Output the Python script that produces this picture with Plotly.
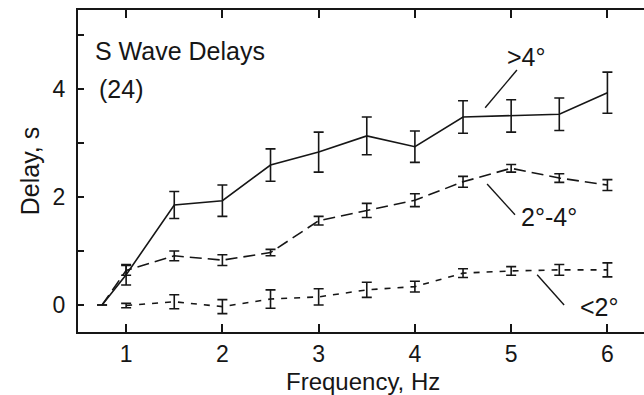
import plotly.graph_objects as go

# ---- data ----
freq_gt4 = [0.75, 1.0, 1.5, 2.0, 2.5, 3.0, 3.5, 4.0, 4.5, 5.0, 5.5, 6.0]
delay_gt4 = [0.0, 0.56, 1.85, 1.93, 2.59, 2.83, 3.13, 2.93, 3.48, 3.50, 3.53, 3.93]
err_gt4 = [0.0, 0.19, 0.25, 0.29, 0.30, 0.37, 0.35, 0.29, 0.30, 0.30, 0.30, 0.38]

freq_2to4 = [0.75, 1.0, 1.5, 2.0, 2.5, 3.0, 3.5, 4.0, 4.5, 5.0, 5.5, 6.0]
delay_2to4 = [0.0, 0.64, 0.91, 0.83, 0.97, 1.56, 1.75, 1.94, 2.28, 2.53, 2.35, 2.22]
err_2to4 = [0.0, 0.09, 0.09, 0.10, 0.06, 0.08, 0.13, 0.12, 0.10, 0.07, 0.08, 0.10]

freq_lt2 = [1.0, 1.5, 2.0, 2.5, 3.0, 3.5, 4.0, 4.5, 5.0, 5.5, 6.0]
delay_lt2 = [-0.01, 0.06, -0.03, 0.11, 0.15, 0.28, 0.34, 0.59, 0.63, 0.65, 0.65]
err_lt2 = [0.04, 0.13, 0.13, 0.17, 0.15, 0.14, 0.10, 0.08, 0.08, 0.10, 0.13]

x_ticks = [1, 2, 3, 4, 5, 6]
y_ticks = [0, 1, 2, 3, 4, 5]
y_ticktext = ["0", "", "2", "", "4", ""]

FONT = "Liberation Sans, Arial, Helvetica, sans-serif"
INK = "#161616"

fig = go.Figure()

def add_series(x, y, e, dash):
    fig.add_trace(go.Scatter(
        x=x, y=y, mode="lines",
        line=dict(color=INK, width=1.6, dash=dash),
        error_y=dict(type="data", array=e, visible=True, color=INK,
                     thickness=1.6, width=5),
        showlegend=False, hoverinfo="skip"))

add_series(freq_gt4, delay_gt4, err_gt4, "solid")
add_series(freq_2to4, delay_2to4, err_2to4, "12px,6px")
add_series(freq_lt2, delay_lt2, err_lt2, "6px,7px")

# leader lines for the series labels
leaders = [
    ((5.06, 4.35), (4.73, 3.65)),
    ((4.75, 2.24), (5.04, 1.67)),
    ((5.27, 0.56), (5.55, 0.00)),
]
for (x0, y0), (x1, y1) in leaders:
    fig.add_shape(type="line", xref="x", yref="y", x0=x0, y0=y0, x1=x1, y1=y1,
                  line=dict(color=INK, width=1.4))

labels = [
    (">4°", 5.16, 4.59),
    ("2°-4°", 5.39, 1.63),
    ("<2°", 5.92, -0.04),
]
for t, x, y in labels:
    fig.add_annotation(x=x, y=y, xref="x", yref="y", text=t, showarrow=False,
                       font=dict(family=FONT, size=25, color=INK))

fig.add_annotation(x=0.66, y=4.70, xref="x", yref="y", text="S Wave Delays",
                   showarrow=False, xanchor="left",
                   font=dict(family=FONT, size=25, color=INK))
fig.add_annotation(x=0.70, y=4.0, xref="x", yref="y", text="(24)",
                   showarrow=False, xanchor="left",
                   font=dict(family=FONT, size=25, color=INK))

# x-axis title placed just below the tick labels (as in the reference)
fig.add_annotation(x=3.46, y=-0.155, xref="x", yref="paper",
                   text="Frequency, Hz", showarrow=False,
                   xanchor="center", yanchor="middle",
                   font=dict(family=FONT, size=24, color=INK))

fig.update_layout(
    width=644, height=395,
    margin=dict(l=78, r=0, t=10, b=63),
    paper_bgcolor="white", plot_bgcolor="white",
    font=dict(family=FONT, size=23, color=INK),
    xaxis=dict(
        range=[0.5, 6.38], tickvals=x_ticks, ticks="inside", ticklen=8,
        tickwidth=1.6, tickcolor=INK, showline=True, linecolor=INK,
        linewidth=2, mirror="ticks", showgrid=False, zeroline=False,
        tickfont=dict(size=23), ticklabelstandoff=0,
    ),
    yaxis=dict(
        range=[-0.5, 5.46], tickvals=y_ticks, ticktext=y_ticktext,
        ticks="inside", ticklen=6, tickwidth=1.6, tickcolor=INK,
        showline=True, linecolor=INK, linewidth=2, mirror=False,
        showgrid=False, zeroline=False, tickfont=dict(size=23),
        ticklabelstandoff=6,
        title=dict(text="Delay, s", font=dict(size=25), standoff=6),
    ),
)

fig.write_html("out.html")
